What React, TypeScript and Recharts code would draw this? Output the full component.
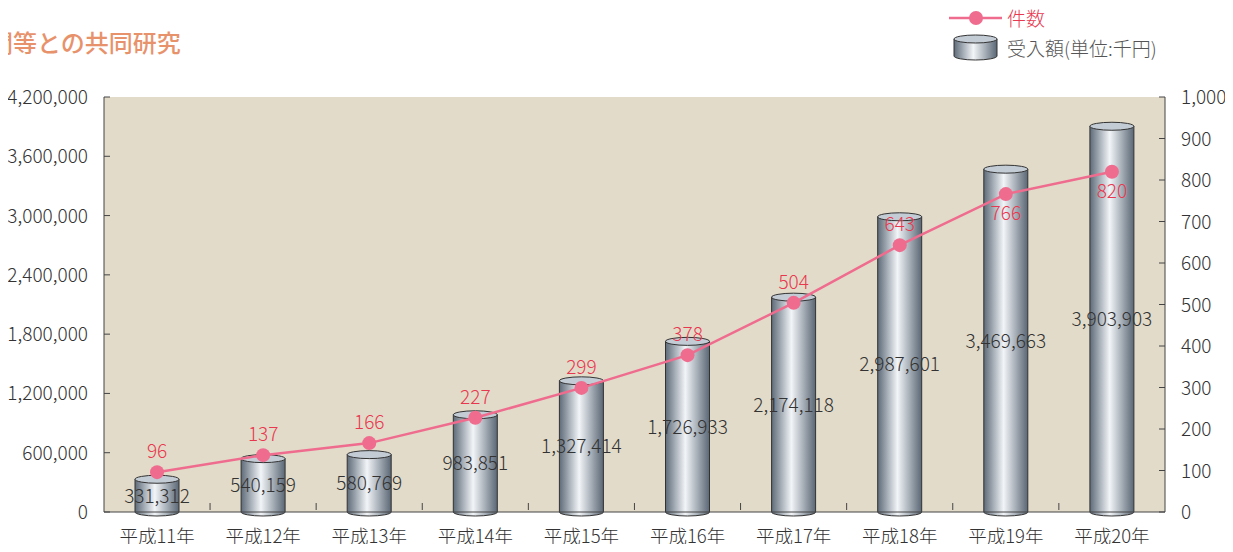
import { ComposedChart, Bar, Line, XAxis, YAxis, LabelList } from 'recharts'

const years = ['平成11年', '平成12年', '平成13年', '平成14年', '平成15年', '平成16年', '平成17年', '平成18年', '平成19年', '平成20年']
const amounts = [331312, 540159, 580769, 983851, 1327414, 1726933, 2174118, 2987601, 3469663, 3903903]
const counts = [96, 137, 166, 227, 299, 378, 504, 643, 766, 820]
const leftTicks = [0, 600000, 1200000, 1800000, 2400000, 3000000, 3600000, 4200000]
const rightTicks = [0, 100, 200, 300, 400, 500, 600, 700, 800, 900, 1000]

const data = years.map((year, i) => ({ year, amount: amounts[i], count: counts[i] }))

const FONT = '"Noto Sans CJK JP", "Noto Sans", sans-serif'
const W = 300
const FS = 19
const fmt = (v: number) => v.toLocaleString('en-US')

function Cylinder(props: any) {
  const { x, y, width, height } = props
  const ry = 4
  const bottom = y + height
  return (
    <g>
      <path
        d={`M${x},${y} L${x},${bottom} A${width / 2},${ry} 0 0 0 ${x + width},${bottom} L${x + width},${y} Z`}
        fill="url(#cylGrad)"
        stroke="#333"
        strokeWidth={1}
      />
      <ellipse cx={x + width / 2} cy={y} rx={width / 2} ry={ry} fill="#c3ccd5" stroke="#333" strokeWidth={1} />
    </g>
  )
}

function LeftTick(props: any) {
  const { x, y, payload } = props
  return (
    <g>
      <line x1={x + 16} x2={x + 22} y1={y} y2={y} stroke="#444" />
      <text x={x} y={y + 7} textAnchor="end" fontSize={FS} fontWeight={W} fill="#333" fontFamily={FONT}>{fmt(payload.value)}</text>
    </g>
  )
}

function RightTick(props: any) {
  const { x, y, payload } = props
  return (
    <g>
      <line x1={x - 22} x2={x - 16} y1={y} y2={y} stroke="#444" />
      <text x={x} y={y + 7} textAnchor="start" fontSize={FS} fontWeight={W} fill="#333" fontFamily={FONT}>{fmt(payload.value)}</text>
    </g>
  )
}

function BottomTick(props: any) {
  const { x, y, payload, index } = props
  const half = 53
  return (
    <g>
      {index < years.length - 1 && (
        <line x1={x + half} x2={x + half} y1={y - 10} y2={y - 17} stroke="#444" />
      )}
      <text x={x} y={y + 23} textAnchor="middle" fontSize={18.5} fontWeight={W} fill="#333" fontFamily={FONT}>{payload.value}</text>
    </g>
  )
}

function AmountLabel(props: any) {
  const { x, y, width, height, value } = props
  return (
    <text x={x + width / 2} y={y + height / 2 + 7} textAnchor="middle" fontSize={FS} fontWeight={W} fill="#333" fontFamily={FONT}>
      {fmt(value)}
    </text>
  )
}

function CountLabel(props: any) {
  const { x, y, value, index } = props
  const below = index >= 8
  return (
    <text x={x} y={below ? y + 26 : y - 14} textAnchor="middle" fontSize={FS} fontWeight={W} fill="#e8384f" fontFamily={FONT}>
      {value}
    </text>
  )
}

export default function App() {
  return (
    <div style={{ position: 'relative', width: 1233, height: 552, margin: -8, background: '#fff', overflow: 'hidden', fontFamily: FONT }}>
      <div style={{ position: 'absolute', left: -11, top: 24, fontSize: 24, fontWeight: 500, color: '#e8926c', whiteSpace: 'nowrap' }}>
        関等との共同研究
      </div>
      <svg style={{ position: 'absolute', left: 0, top: 0 }} width={1233} height={70}>
        <defs>
          <linearGradient id="legGrad" x1="0" y1="0" x2="1" y2="0">
            <stop offset="0%" stopColor="#5e6b79" />
            <stop offset="45%" stopColor="#f2f5f8" />
            <stop offset="100%" stopColor="#5a6775" />
          </linearGradient>
        </defs>
        <line x1={949} x2={1002} y1={18} y2={18} stroke="#ef6c8e" strokeWidth={2.5} />
        <circle cx={976} cy={18} r={7} fill="#ef6c8e" />
        <path d="M954,39 L954,56 A21.5,4 0 0 0 997,56 L997,39 Z" fill="url(#legGrad)" stroke="#333" />
        <ellipse cx={975.5} cy={39} rx={21.5} ry={4} fill="#c3ccd5" stroke="#333" />
      </svg>
      <div style={{ position: 'absolute', left: 1007, top: 4, fontSize: FS, fontWeight: W, color: '#e8384f' }}>件数</div>
      <div style={{ position: 'absolute', left: 1007, top: 34, fontSize: FS, fontWeight: W, color: '#555', whiteSpace: 'nowrap' }}>受入額(単位:千円)</div>
      <div style={{ position: 'absolute', left: 0, top: 0 }}>
        <ComposedChart width={1233} height={552} data={data} margin={{ top: 97, right: 0, bottom: 0, left: 0 }}>
          <defs>
            <linearGradient id="cylGrad" x1="0" y1="0" x2="1" y2="0">
              <stop offset="0%" stopColor="#5e6b79" />
              <stop offset="45%" stopColor="#f2f5f8" />
              <stop offset="100%" stopColor="#5a6775" />
            </linearGradient>
          </defs>
          <rect x={104} y={97} width={1061} height={415} fill="#e2dbc9" />
          <XAxis
            dataKey="year"
            height={40}
            axisLine={{ stroke: '#444' }}
            tickLine={false}
            tick={<BottomTick />}
            interval={0}
          />
          <YAxis
            yAxisId="left"
            orientation="left"
            width={104}
            domain={[0, 4200000]}
            ticks={leftTicks}
            axisLine={{ stroke: '#444' }}
            tickLine={false}
            tickSize={0}
            tickMargin={16}
            tick={<LeftTick />}
          />
          <YAxis
            yAxisId="right"
            orientation="right"
            width={68}
            domain={[0, 1000]}
            ticks={rightTicks}
            axisLine={{ stroke: '#444' }}
            tickLine={false}
            tickSize={0}
            tickMargin={16}
            tick={<RightTick />}
          />
          <Bar yAxisId="left" dataKey="amount" barSize={44} shape={<Cylinder />} isAnimationActive={false}>
            <LabelList dataKey="amount" content={<AmountLabel />} />
          </Bar>
          <Line
            yAxisId="right"
            dataKey="count"
            stroke="#ef6c8e"
            strokeWidth={2.5}
            dot={{ r: 7, fill: '#ef6c8e', stroke: '#ef6c8e', strokeWidth: 0 }}
            isAnimationActive={false}
          >
            <LabelList dataKey="count" content={<CountLabel />} />
          </Line>
        </ComposedChart>
      </div>
    </div>
  )
}
